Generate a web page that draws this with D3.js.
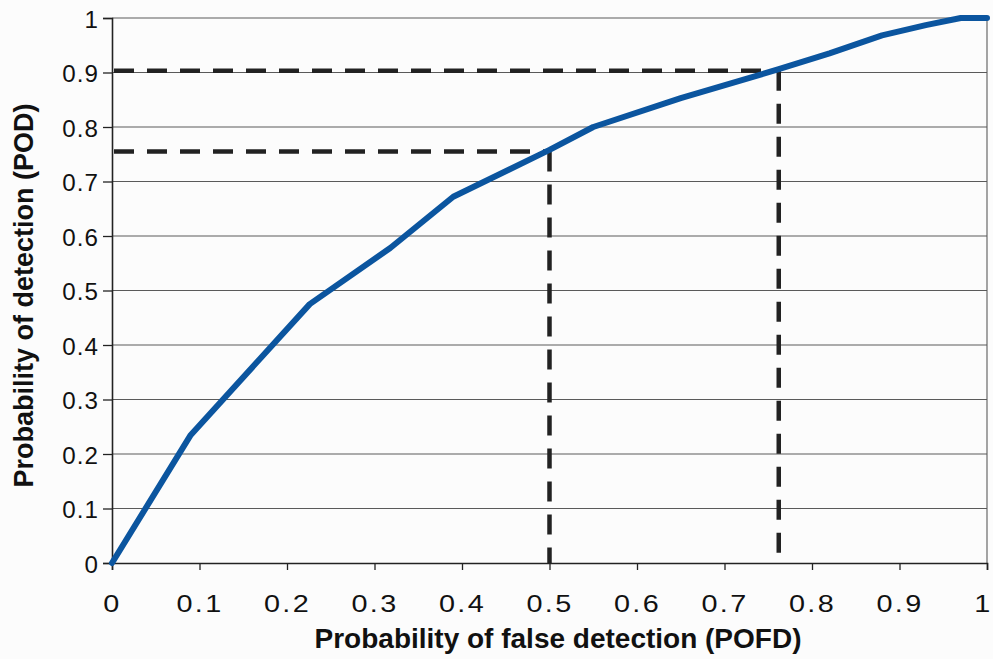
<!DOCTYPE html>
<html>
<head>
<meta charset="utf-8">
<script src="https://cdn.jsdelivr.net/npm/d3@7"></script>
<style>
  html, body { margin: 0; padding: 0; background: #fcfcfc; }
  svg { display: block; }
  text { font-family: "Liberation Sans", Arial, sans-serif; fill: #111; }
</style>
</head>
<body>
<svg id="chart" width="993" height="659"></svg>
<script>
// ROC curve: probability of false detection vs probability of detection
const pofd = [0, 0.09, 0.226, 0.318, 0.39, 0.5, 0.55, 0.65, 0.762, 0.82, 0.88, 0.93, 0.97, 1.0];
const pod  = [0, 0.235, 0.475, 0.578, 0.672, 0.758, 0.8, 0.853, 0.906, 0.935, 0.968, 0.987, 1.0, 1.0];

// Reference thresholds marked with dashed guides
const guideX = [0.5, 0.762];
const guideY = [0.755, 0.903];

const xTicks = [0, 0.1, 0.2, 0.3, 0.4, 0.5, 0.6, 0.7, 0.8, 0.9, 1];
const yTicks = [0, 0.1, 0.2, 0.3, 0.4, 0.5, 0.6, 0.7, 0.8, 0.9, 1];

const xTitle = "Probability of false detection (POFD)";
const yTitle = "Probability of detection (POD)";

const svg = d3.select("#chart");
const margin = { left: 112, right: 6, top: 18, bottom: 96 };
const W = 993, H = 659;
const x = d3.scaleLinear().domain([0, 1]).range([margin.left, W - margin.right]);
const y = d3.scaleLinear().domain([0, 1]).range([H - margin.bottom, margin.top]);

const fmt = d => d === 0 || d === 1 ? String(d) : d3.format(".1f")(d);
const xStretch = 1.2;   // x tick labels are set wide
const yStretch = 1.05;

// horizontal gridlines
svg.append("g")
  .selectAll("line")
  .data(yTicks.filter(d => d > 0))
  .join("line")
  .attr("x1", x(0)).attr("x2", x(1))
  .attr("y1", d => y(d)).attr("y2", d => y(d))
  .attr("stroke", "#5a5a5a").attr("stroke-width", 1.1);

// right border
svg.append("line")
  .attr("x1", x(1)).attr("x2", x(1))
  .attr("y1", y(0)).attr("y2", y(1))
  .attr("stroke", "#5a5a5a").attr("stroke-width", 1.1);

// x axis
const xAxis = svg.append("g")
  .attr("transform", `translate(0,${y(0)})`)
  .call(d3.axisBottom(x).tickValues(xTicks).tickFormat(fmt).tickSize(7));
xAxis.select(".domain").attr("stroke", "#222").attr("stroke-width", 1.6);
xAxis.selectAll(".tick line").attr("stroke", "#222").attr("stroke-width", 1.3);
xAxis.selectAll(".tick text")
  .attr("font-size", 24).attr("letter-spacing", 2)
  .attr("y", 49).attr("dy", null)
  .attr("x", d => d === 1 ? -4 / xStretch : 0)
  .attr("transform", `scale(${xStretch},1)`)
  .style("font-family", "Liberation Sans, Arial, sans-serif").attr("fill", "#111");

// y axis
const yAxis = svg.append("g")
  .attr("transform", `translate(${x(0)},0)`)
  .call(d3.axisLeft(y).tickValues(yTicks).tickFormat(fmt).tickSize(9));
yAxis.select(".domain").attr("stroke", "#222").attr("stroke-width", 1.6);
yAxis.selectAll(".tick line").attr("stroke", "#222").attr("stroke-width", 1.3);
yAxis.selectAll(".tick text")
  .attr("font-size", 23).attr("letter-spacing", 1)
  .attr("x", -13 / yStretch).attr("dy", 9)
  .attr("transform", `scale(${yStretch},1)`)
  .style("font-family", "Liberation Sans, Arial, sans-serif").attr("fill", "#111");

// dashed guides
const guides = svg.append("g").attr("stroke", "#222").attr("stroke-width", 4.5)
  .attr("stroke-dasharray", "20,13").attr("fill", "none");
guideY.forEach((gy, i) => {
  guides.append("line")
    .attr("x1", x(0) + 2).attr("x2", x(guideX[i]))
    .attr("y1", y(gy)).attr("y2", y(gy));
  guides.append("line")
    .attr("x1", x(guideX[i])).attr("x2", x(guideX[i]))
    .attr("y1", y(gy)).attr("y2", y(0));
});

// ROC curve
const pts = pofd.map((v, i) => [v, pod[i]]);
svg.append("path")
  .datum(pts)
  .attr("fill", "none")
  .attr("stroke", "#0b559f")
  .attr("stroke-width", 6)
  .attr("stroke-linejoin", "round")
  .attr("stroke-linecap", "round")
  .attr("d", d3.line().x(d => x(d[0])).y(d => y(d[1])));

// axis titles
svg.append("text")
  .attr("x", 558).attr("y", 648)
  .attr("text-anchor", "middle")
  .attr("font-size", 28).attr("font-weight", "bold")
  .text(xTitle);

svg.append("text")
  .attr("transform", `translate(33,${(y(0) + y(1)) / 2 + 5}) rotate(-90)`)
  .attr("text-anchor", "middle")
  .attr("font-size", 27).attr("font-weight", "bold")
  .text(yTitle);
</script>
</body>
</html>
